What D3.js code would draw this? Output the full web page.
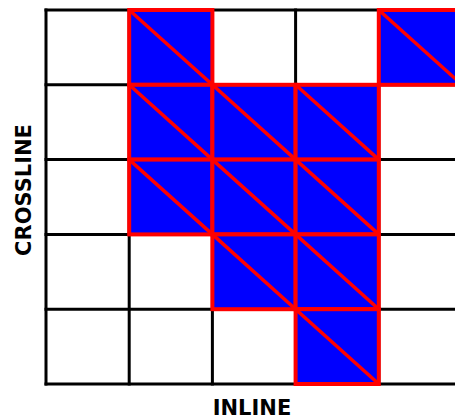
<!DOCTYPE html>
<html><head><meta charset="utf-8">
<script src="https://cdn.jsdelivr.net/npm/d3@7"></script>
<style>body{margin:0;background:#fff;overflow:hidden}svg{display:block}</style>
</head><body>
<script>
const inlineIdx = [0,1,2,3,4];
const crosslineIdx = [0,1,2,3,4];
// filled cells: [inline column, crossline row from top]
const filledInline =    [1,4,1,2,3,1,2,3,2,3,3];
const filledCrossline = [0,0,1,1,1,2,2,2,3,3,4];
const xLabel = "INLINE";
const yLabel = "CROSSLINE";

const W = 455, H = 419;
const svg = d3.select("body").append("svg").attr("width", W).attr("height", H);
const x = d3.scaleLinear().domain([0, 5]).range([46, 462]);
const y = d3.scaleLinear().domain([0, 5]).range([10, 384]);

const lines = d3.range(6);
svg.append("g").selectAll("line.v").data(lines).join("line")
  .attr("x1", d => x(d)).attr("x2", d => x(d))
  .attr("y1", y(0) - 1.5).attr("y2", y(5) + 1.5)
  .attr("stroke", "#000").attr("stroke-width", 3);
svg.append("g").selectAll("line.h").data(lines).join("line")
  .attr("x1", x(0) - 1.5).attr("x2", x(5) + 1.5)
  .attr("y1", d => y(d)).attr("y2", d => y(d))
  .attr("stroke", "#000").attr("stroke-width", 3);

const cells = filledInline.map((c, i) => ({c, r: filledCrossline[i]}));
const g = svg.append("g");
g.selectAll("rect").data(cells).join("rect")
  .attr("x", d => x(d.c)).attr("y", d => y(d.r))
  .attr("width", d => x(d.c + 1) - x(d.c)).attr("height", d => y(d.r + 1) - y(d.r))
  .attr("fill", "#0000ff").attr("stroke", "#ff0000").attr("stroke-width", 4);
g.selectAll("line").data(cells).join("line")
  .attr("x1", d => x(d.c)).attr("y1", d => y(d.r))
  .attr("x2", d => x(d.c + 1)).attr("y2", d => y(d.r + 1))
  .attr("stroke", "#ff0000").attr("stroke-width", 3.5);

svg.append("text").attr("x", 252).attr("y", 415)
  .attr("text-anchor", "middle")
  .style("font-family", "DejaVu Sans, sans-serif")
  .style("font-weight", "bold").style("font-size", "21px").text(xLabel);
svg.append("text").attr("transform", "translate(31,190) rotate(-90)")
  .attr("text-anchor", "middle")
  .style("font-family", "DejaVu Sans, sans-serif")
  .style("font-weight", "bold").style("font-size", "21px").text(yLabel);
</script>
</body></html>
